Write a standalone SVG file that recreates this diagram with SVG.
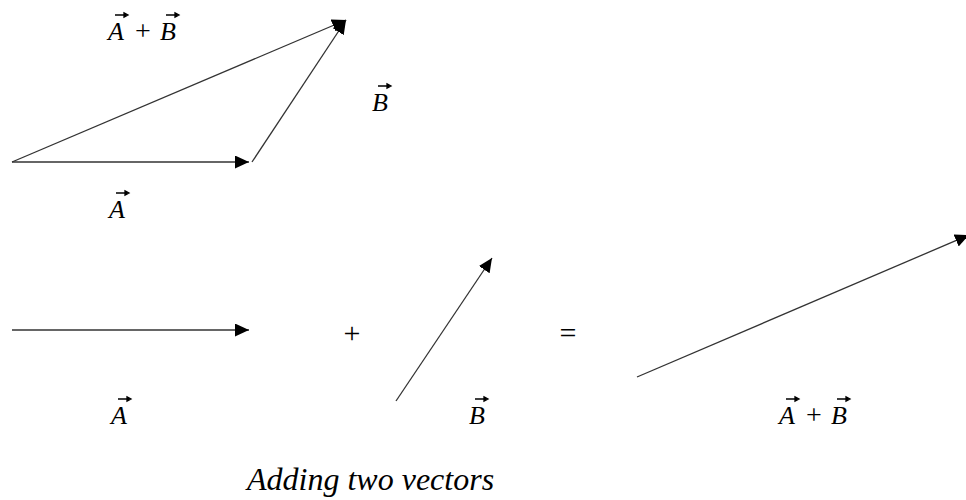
<svg xmlns="http://www.w3.org/2000/svg" width="966" height="500" viewBox="0 0 966 500">
<style>
.ln{stroke:#333;stroke-width:1.3;fill:none}
.lbl{font-family:"Liberation Serif","Times New Roman",serif;font-style:italic;font-size:26px;fill:#000}
.op{font-family:"Liberation Serif","Times New Roman",serif;font-size:30px;fill:#000;text-anchor:middle}
.opl{font-family:"Liberation Serif","Times New Roman",serif;font-size:28px;fill:#000;text-anchor:middle}
.cap{font-family:"Liberation Serif","Times New Roman",serif;font-style:italic;font-size:32px;fill:#000}
.va{stroke:#000;stroke-width:1.3;fill:#000}
</style>
<defs>
<marker id="ah" markerUnits="userSpaceOnUse" markerWidth="15" markerHeight="13" refX="14" refY="6.5" orient="auto">
<path d="M0,0 L14,6.5 L0,13 Z" fill="#000"/>
</marker>
<path id="vec" d="M0,0 H11 M9,-2.2 L13,0 L9,2.2 Z"/>
</defs>
<g id="connectors">
<line class="ln" x1="12" y1="162" x2="249" y2="162" marker-end="url(#ah)"/>
<line class="ln" x1="252" y1="162" x2="346" y2="20" marker-end="url(#ah)"/>
<line class="ln" x1="12" y1="162" x2="346" y2="20" marker-end="url(#ah)"/>
<line class="ln" x1="12" y1="330" x2="249" y2="330" marker-end="url(#ah)"/>
<line class="ln" x1="396" y1="401" x2="492" y2="258" marker-end="url(#ah)"/>
<line class="ln" x1="637" y1="377" x2="969" y2="235" marker-end="url(#ah)"/>
</g>
<g id="label-sum-top">
<text class="lbl" x="108" y="40">A</text>
<use href="#vec" class="va" x="115" y="15"/>
<text class="opl" x="143" y="40">+</text>
<text class="lbl" x="160" y="40">B</text>
<use href="#vec" class="va" x="166" y="15"/>
</g>
<g id="label-B-top">
<text class="lbl" x="372" y="111">B</text>
<use href="#vec" class="va" x="378" y="86"/>
</g>
<g id="label-A-top">
<text class="lbl" x="109" y="218">A</text>
<use href="#vec" class="va" x="116" y="193"/>
</g>
<g id="op-plus"><text class="op" x="352" y="343">+</text></g>
<g id="op-equals"><text class="op" x="568" y="343">=</text></g>
<g id="label-A-bottom">
<text class="lbl" x="111" y="424">A</text>
<use href="#vec" class="va" x="118" y="399"/>
</g>
<g id="label-B-bottom">
<text class="lbl" x="469" y="424">B</text>
<use href="#vec" class="va" x="475" y="399"/>
</g>
<g id="label-sum-bottom">
<text class="lbl" x="779" y="424">A</text>
<use href="#vec" class="va" x="786" y="399"/>
<text class="opl" x="814" y="424">+</text>
<text class="lbl" x="831" y="424">B</text>
<use href="#vec" class="va" x="837" y="399"/>
</g>
<g id="caption">
<text class="cap" x="247" y="490">Adding two vectors</text>
</g>
</svg>
